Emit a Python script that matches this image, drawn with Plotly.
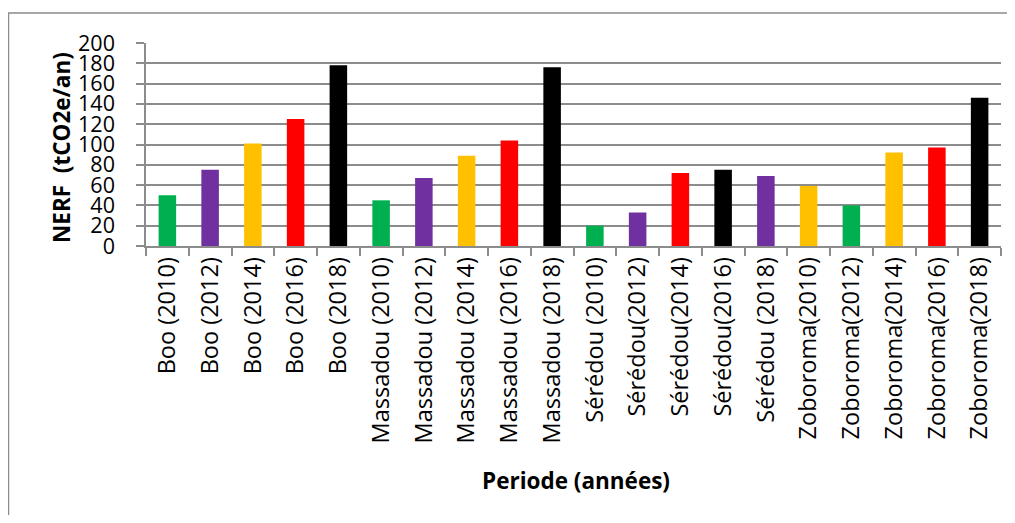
import plotly.graph_objects as go

categories = ["Boo (2010)", "Boo (2012)", "Boo (2014)", "Boo (2016)", "Boo (2018)",
              "Massadou (2010)", "Massadou (2012)", "Massadou (2014)", "Massadou (2016)", "Massadou (2018)",
              "Sérédou (2010)", "Sérédou(2012)", "Sérédou(2014)", "Sérédou(2016)", "Sérédou (2018)",
              "Zoboroma(2010)", "Zoboroma(2012)", "Zoboroma(2014)", "Zoboroma(2016)", "Zoboroma(2018)"]
values = [50, 75, 101, 125, 178,
          45, 67, 89, 104, 176,
          20, 33, 72, 75, 69,
          59, 40, 92, 97, 146]
colors = ["#00B050", "#7030A0", "#FFC000", "#FF0000", "#000000",
          "#00B050", "#7030A0", "#FFC000", "#FF0000", "#000000",
          "#00B050", "#7030A0", "#FF0000", "#000000", "#7030A0",
          "#FFC000", "#00B050", "#FFC000", "#FF0000", "#000000"]
y_ticks = list(range(0, 201, 20))

# page body has an 8px margin: figure origin is at (8, 8) of the window
O = 8
W, H = 999, 507
L, T = 146 - O, 43 - O
R = W - (1001 - O)
B = H - (246 - O)
pw, ph = W - L - R, H - T - B

def px_x(x):
    return (x - O - L) / pw

def px_y(y):
    return (H - B - (y - O)) / ph

grid = "#8C8C8C"

fig = go.Figure(go.Bar(x=categories, y=values, marker_color=colors, marker_line_width=0))

fig.update_layout(
    width=W, height=H,
    margin=dict(l=L, r=R, t=T, b=B, autoexpand=False),
    paper_bgcolor="white", plot_bgcolor="white",
    bargap=0.59,
    showlegend=False,
    font=dict(family="Open Sans", color="#000000"),
)
fig.update_xaxes(
    type="category", tickangle=-90,
    tickfont=dict(family="Open Sans", size=23.5, color="#000000"),
    showline=True, linecolor=grid, linewidth=1.5,
    ticks="outside", tickson="boundaries", ticklen=8, tickcolor=grid, tickwidth=1.5,
    showgrid=False, automargin=False,
)
fig.update_yaxes(
    range=[0, 200], tickvals=y_ticks,
    tickfont=dict(family="Open Sans", size=21.5, color="#000000"),
    showline=True, linecolor=grid, linewidth=1.5,
    ticks="outside", ticklen=8, tickcolor=grid, tickwidth=1.5,
    showgrid=True, gridcolor=grid, gridwidth=1.5,
    zeroline=False, automargin=False, ticklabelstandoff=17,
)
fig.add_annotation(
    text="<b>NERF  (tCO2e/an)</b>", textangle=-90,
    xref="paper", yref="paper", x=px_x(61), y=px_y(148),
    xanchor="center", yanchor="middle", showarrow=False,
    font=dict(family="Open Sans", size=22.5, color="#000000"),
)
fig.add_annotation(
    text="<b>Periode (années)</b>",
    xref="paper", yref="paper", x=px_x(576), y=px_y(481),
    xanchor="center", yanchor="middle", showarrow=False,
    font=dict(family="Open Sans", size=22.5, color="#000000"),
)
fig.add_shape(
    type="rect", xref="paper", yref="paper",
    x0=px_x(8.5), y0=px_y(13), x1=px_x(1040), y1=px_y(560),
    line=dict(color="#8C8C8C", width=1.5), fillcolor="rgba(0,0,0,0)", layer="below",
)

fig.write_html("out.html")
